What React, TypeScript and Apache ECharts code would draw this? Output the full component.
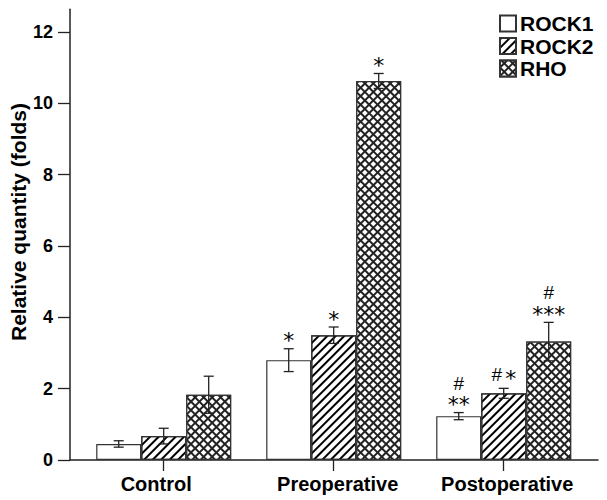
import React, { useEffect, useRef } from 'react';
import * as echarts from 'echarts';

const categories = ['Control', 'Preoperative', 'Postoperative'];
const seriesNames = ['ROCK1', 'ROCK2', 'RHO'];
const rock1 = [0.45, 2.8, 1.23];
const rock1Err = [0.09, 0.32, 0.1];
const rock2 = [0.67, 3.5, 1.87];
const rock2Err = [0.22, 0.23, 0.14];
const rho = [1.83, 10.63, 3.32];
const rhoErr = [0.52, 0.21, 0.54];
// significance marks: rows from top to bottom
const rock1Marks = [[], ['*'], ['#', '**']];
const rock2Marks = [[], ['*'], ['#*']];
const rhoMarks = [[], ['*'], ['#', '***']];
const yTicks = [0, 2, 4, 6, 8, 10, 12];
const yName = 'Relative quantity (folds)';

const FONT = '"Liberation Sans", Arial, sans-serif';
const STAR_FONT = '22px "DejaVu Sans", sans-serif';
const HASH_FONT = '19px "Liberation Sans", Arial, sans-serif';
const GAP = 0.206;
const GRID_TOP = 9.3;
const GRID_BOTTOM = 40;
const Y_MAX = 12.64;
// horizontal nudges of the category labels (style only)
const labelPads = [[0, 15, 0, 0], [0, 0, 0, 8], [0, 0, 0, 7]];

const decals = [
  null,
  { symbol: 'rect', symbolSize: 1, dashArrayX: [1, 0], dashArrayY: [1.8, 3.4], rotation: -Math.PI / 4, color: '#000' },
  { symbol: 'rect', symbolSize: 1, dashArrayX: [3.4, 1.6], dashArrayY: [3.4, 1.6], rotation: Math.PI / 4, color: '#fff' },
];
const fills = ['#fff', '#fff', '#222'];

function txt(text: string, x: number, y: number, font: string) {
  return {
    type: 'text',
    style: { text, x, y, align: 'center', verticalAlign: 'middle', font, fill: '#000' },
  };
}

function errSeries(k: number, values: number[], errs: number[], marks: string[][]) {
  return {
    type: 'custom',
    xAxisIndex: 1,
    yAxisIndex: 1,
    z: 5,
    silent: true,
    data: values.map((v, i) => [i, v, errs[i]]),
    renderItem: (params: any, api: any) => {
      const i = api.value(0);
      const v = api.value(1);
      const e = api.value(2);
      const band = api.size([1, 0])[0];
      const bw = (band * (1 - GAP)) / 3;
      const c = api.coord([i, v]);
      const x = c[0] + (k - 1) * bw;
      const yTop = api.coord([i, v + e])[1];
      const yBot = api.coord([i, v - e])[1];
      const cap = 5;
      const ls = { stroke: '#222', lineWidth: 1.3 };
      const children: any[] = [
        { type: 'line', shape: { x1: x, y1: yTop, x2: x, y2: yBot }, style: ls },
        { type: 'line', shape: { x1: x - cap, y1: yTop, x2: x + cap, y2: yTop }, style: ls },
        { type: 'line', shape: { x1: x - cap, y1: yBot, x2: x + cap, y2: yBot }, style: ls },
      ];
      const rows = marks[i] || [];
      const n = rows.length;
      rows.forEach((t, j) => {
        const fromBottom = n - 1 - j;
        if (/^\*+$/.test(t)) {
          children.push(txt(t, x, yTop - 8 - fromBottom * 18, STAR_FONT));
        } else if (/^#+$/.test(t)) {
          children.push(txt(t, x, yTop - 14 - fromBottom * 15.5, HASH_FONT));
        } else {
          // mixed row such as "#*": draw glyph by glyph
          const chars = t.split('');
          chars.forEach((ch, q) => {
            const dx = (q - (chars.length - 1) / 2) * 14;
            if (ch === '*') children.push(txt(ch, x + dx, yTop - 10 - fromBottom * 18, STAR_FONT));
            else children.push(txt(ch, x + dx, yTop - 14 - fromBottom * 18, HASH_FONT));
          });
        }
      });
      return { type: 'group', children };
    },
  };
}

export default function App() {
  const ref = useRef<HTMLDivElement>(null);
  useEffect(() => {
    if (!ref.current) return;
    const chart = echarts.init(ref.current, null, { renderer: 'svg' });
    const values = [rock1, rock2, rho];
    const errs = [rock1Err, rock2Err, rhoErr];
    const marks = [rock1Marks, rock2Marks, rhoMarks];
    const barSeries = seriesNames.map((name, k) => ({
      name,
      type: 'bar',
      xAxisIndex: 1,
      yAxisIndex: 1,
      barGap: '0%',
      barCategoryGap: `${GAP * 100}%`,
      data: values[k],
      itemStyle: {
        color: fills[k],
        borderColor: '#333',
        borderWidth: 1.2,
        ...(decals[k] ? { decal: decals[k] } : {}),
      },
    }));
    const option: any = {
      animation: false,
      backgroundColor: '#fff',
      legend: {
        orient: 'vertical',
        left: 499,
        top: 13,
        itemWidth: 16,
        itemHeight: 16,
        itemGap: 1.5,
        padding: 0,
        icon: 'rect',
        data: seriesNames,
        textStyle: { fontFamily: FONT, fontWeight: 'bold', fontSize: 21, color: '#000', padding: [0, 0, 0, -1] },
      },
      grid: [
        { left: 70, right: 9, top: GRID_TOP, bottom: GRID_BOTTOM },
        { left: 78.7, width: 510, top: GRID_TOP, bottom: GRID_BOTTOM },
      ],
      xAxis: [
        {
          type: 'value',
          gridIndex: 0,
          min: 0,
          max: 1,
          axisLine: { show: true, lineStyle: { color: '#222', width: 1.5 } },
          axisTick: { show: false },
          axisLabel: { show: false },
          splitLine: { show: false },
        },
        {
          type: 'category',
          gridIndex: 1,
          data: categories.map((c, i) => ({ value: c, textStyle: { padding: labelPads[i] } })),
          axisLine: { show: false },
          axisTick: { show: true, alignWithLabel: true, length: 11, lineStyle: { color: '#222', width: 1.3 } },
          axisLabel: { interval: 0, hideOverlap: false, margin: 14, fontFamily: FONT, fontWeight: 'bold', fontSize: 20, color: '#000' },
          splitLine: { show: false },
        },
      ],
      yAxis: [
        {
          type: 'value',
          gridIndex: 0,
          min: 0,
          max: Y_MAX,
          axisLine: { show: true, lineStyle: { color: '#222', width: 1.5 } },
          axisTick: { show: true, length: 12, customValues: yTicks, lineStyle: { color: '#222', width: 1.3 } },
          axisLabel: { customValues: yTicks, margin: 17, fontFamily: FONT, fontWeight: 'bold', fontSize: 18, color: '#000' },
          splitLine: { show: false },
        },
        {
          type: 'value',
          gridIndex: 1,
          min: 0,
          max: Y_MAX,
          show: false,
          splitLine: { show: false },
        },
      ],
      graphic: [
        {
          type: 'text',
          x: 18,
          y: 222,
          rotation: Math.PI / 2,
          style: {
            text: yName,
            font: `bold 21px ${FONT}`,
            align: 'center',
            verticalAlign: 'middle',
            fill: '#000',
          },
        },
      ],
      series: [
        ...barSeries,
        ...seriesNames.map((_, k) => errSeries(k, values[k], errs[k], marks[k])),
      ],
    };
    chart.setOption(option);
    return () => chart.dispose();
  }, []);
  return <div ref={ref} style={{ position: 'fixed', left: 0, top: 0, width: 607, height: 500 }} />;
}
